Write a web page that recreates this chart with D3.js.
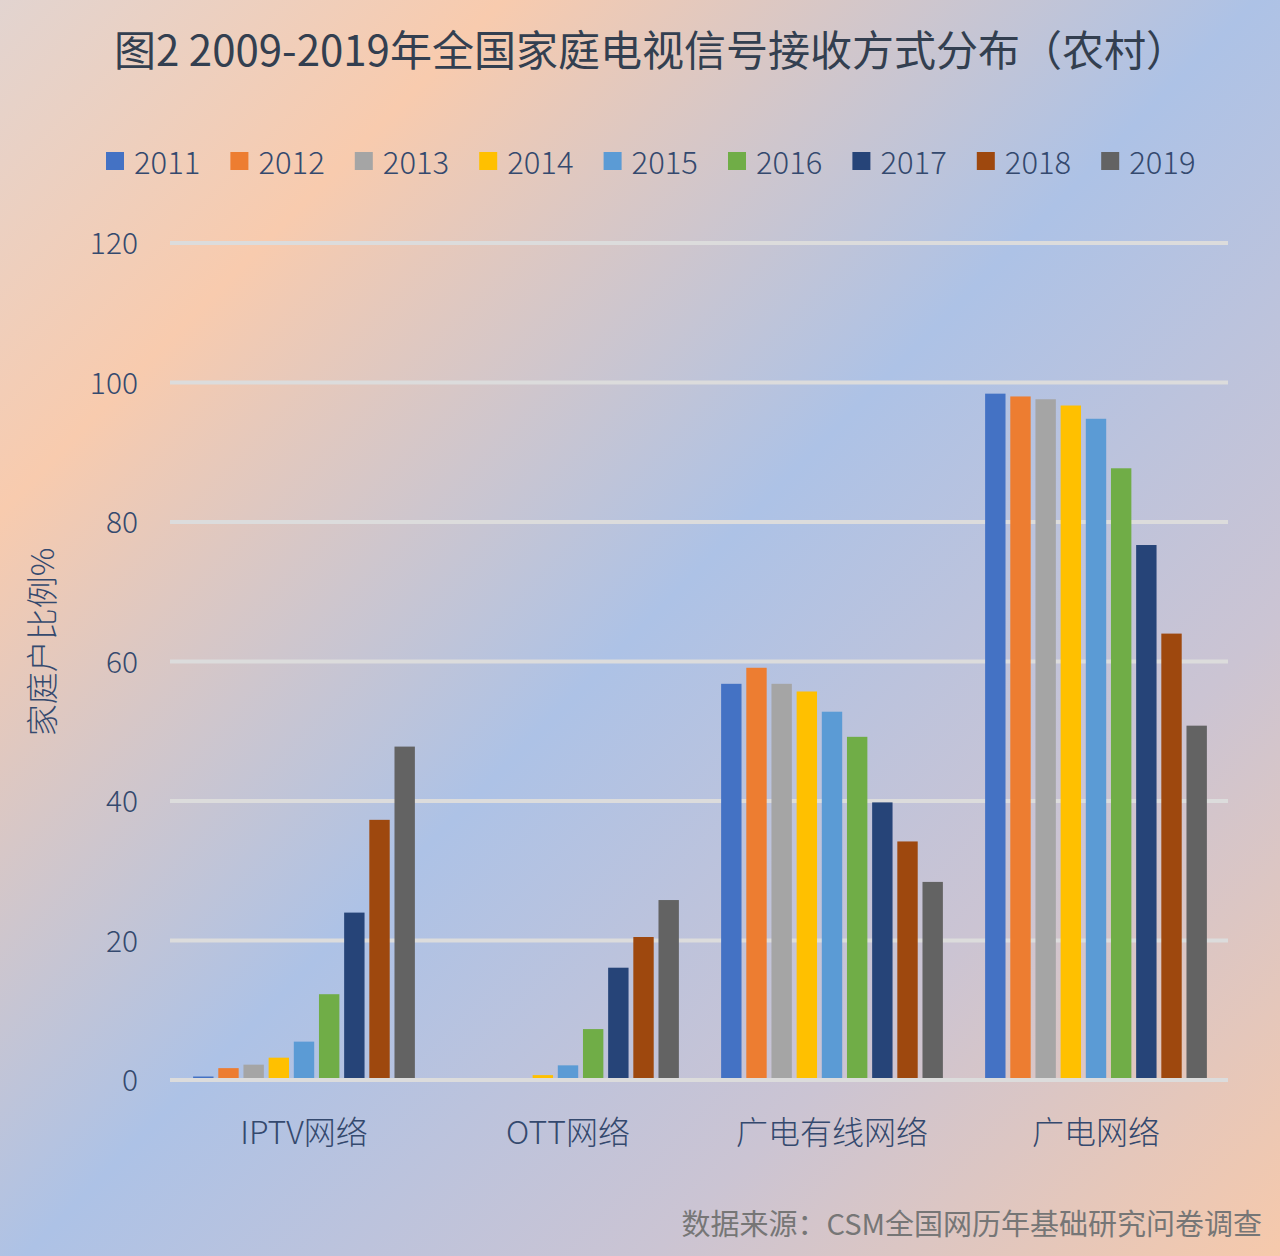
<!DOCTYPE html>
<html>
<head>
<meta charset="utf-8">
<script src="https://cdn.jsdelivr.net/npm/d3@7"></script>
<style>
  html, body { margin: 0; padding: 0; }
  body { width: 1280px; height: 1256px; overflow: hidden; }
  svg { display: block; }
  text { font-family: "Noto Sans CJK SC", "Noto Sans", sans-serif; }
</style>
</head>
<body>
<svg id="chart" width="1280" height="1256"></svg>
<script>
const title = "图2 2009-2019年全国家庭电视信号接收方式分布（农村）";
const source = "数据来源：CSM全国网历年基础研究问卷调查";
const yTitle = "家庭户比例%";
const categories = ["IPTV网络", "OTT网络", "广电有线网络", "广电网络"];
const years = ["2011", "2012", "2013", "2014", "2015", "2016", "2017", "2018", "2019"];
const colors = ["#4472c4", "#ed7d31", "#a5a5a5", "#ffc000", "#5b9bd5", "#70ad47", "#264478", "#9e480e", "#636363"];
const yTicks = [0, 20, 40, 60, 80, 100, 120];
// values[yearIndex][categoryIndex]
const v2011 = [0.5, 0, 56.8, 98.4];
const v2012 = [1.7, 0, 59.1, 98.0];
const v2013 = [2.2, 0, 56.8, 97.6];
const v2014 = [3.2, 0.7, 55.7, 96.7];
const v2015 = [5.5, 2.1, 52.8, 94.8];
const v2016 = [12.3, 7.3, 49.2, 87.7];
const v2017 = [24.0, 16.1, 39.8, 76.7];
const v2018 = [37.3, 20.5, 34.2, 64.0];
const v2019 = [47.8, 25.8, 28.4, 50.8];
const series = [v2011, v2012, v2013, v2014, v2015, v2016, v2017, v2018, v2019];

const svg = d3.select("#chart");

// background gradient
const defs = svg.append("defs");
const grad = defs.append("linearGradient").attr("id", "bg")
  .attr("gradientUnits", "userSpaceOnUse")
  .attr("x1", 0).attr("y1", 0).attr("x2", 1280).attr("y2", 1256);
[[0, "#e2d4d0"], [0.2, "#f8cbae"], [0.5, "#adc2e6"], [0.75, "#cbc4d3"], [1, "#f6c9ab"]]
  .forEach(([o, c]) => grad.append("stop").attr("offset", o).attr("stop-color", c));
svg.append("rect").attr("width", 1280).attr("height", 1256).attr("fill", "url(#bg)");

const plotL = 172, plotR = 1228, plotT = 243, plotB = 1080;
const y = d3.scaleLinear().domain([0, 120]).range([plotB, plotT]);
const x0 = d3.scaleBand().domain(categories).range([plotL, plotR]).paddingInner(0.16).paddingOuter(0.08);
const x1 = d3.scaleBand().domain(years).range([0, x0.bandwidth()]).paddingInner(0.19).paddingOuter(0);

// gridlines
svg.append("g").selectAll("line").data(yTicks.filter(d => d > 0)).join("line")
  .attr("x1", plotL - 2).attr("x2", plotR)
  .attr("y1", d => y(d)).attr("y2", d => y(d))
  .attr("stroke", "#dcdcdc").attr("stroke-width", 4);

// bars
const groups = svg.append("g").selectAll("g").data(categories).join("g")
  .attr("transform", d => `translate(${x0(d)},0)`);
groups.selectAll("rect").data((c, ci) => years.map((yr, yi) => ({ yr, yi, v: series[yi][ci] })))
  .join("rect")
  .attr("x", d => x1(d.yr))
  .attr("width", x1.bandwidth())
  .attr("y", d => y(d.v))
  .attr("height", d => y(0) - y(d.v))
  .attr("fill", d => colors[d.yi]);

// zero line
svg.append("line").attr("x1", plotL - 2).attr("x2", plotR)
  .attr("y1", y(0)).attr("y2", y(0))
  .attr("stroke", "#dcdcdc").attr("stroke-width", 4);

// y tick labels
const yAxis = d3.axisLeft(y).tickValues(yTicks).tickSize(0).tickPadding(0);
const ya = svg.append("g").attr("transform", "translate(138,0)").call(yAxis);
ya.select(".domain").remove();
ya.selectAll("text").attr("font-size", 30).attr("font-weight", 300)
  .attr("fill", "#34496e").attr("font-family", "'Noto Sans CJK SC', 'Noto Sans', sans-serif")
  .attr("dy", "0.35em");

// x category labels
const xAxis = d3.axisBottom(x0).tickSize(0).tickPadding(0);
const xa = svg.append("g").attr("transform", "translate(0,1133)").call(xAxis);
xa.select(".domain").remove();
xa.selectAll("text").attr("font-size", 32).attr("font-weight", 300)
  .attr("fill", "#34496e").attr("font-family", "'Noto Sans CJK SC', 'Noto Sans', sans-serif")
  .attr("dy", "0.35em");

// y title
svg.append("text").attr("transform", "translate(40,642) rotate(-90)")
  .attr("text-anchor", "middle").attr("dominant-baseline", "central")
  .attr("font-size", 32).attr("font-weight", 300).attr("fill", "#34496e").text(yTitle);

// title
svg.append("text").attr("x", 651).attr("y", 47)
  .attr("text-anchor", "middle").attr("dominant-baseline", "central")
  .attr("font-size", 42).attr("fill", "#333f50").text(title);

// legend
const lx = d3.scaleLinear().domain([0, 1]).range([106, 230.4]);
const leg = svg.append("g").selectAll("g").data(years).join("g")
  .attr("transform", (d, i) => `translate(${lx(i)},161)`);
leg.append("rect").attr("x", 0).attr("y", -9).attr("width", 18).attr("height", 18)
  .attr("fill", (d, i) => colors[i]);
leg.append("text").attr("x", 28).attr("y", -1).attr("dominant-baseline", "central")
  .attr("font-size", 31).attr("font-weight", 300).attr("fill", "#34496e").text(d => d);

// source
svg.append("text").attr("x", 1262).attr("y", 1222)
  .attr("text-anchor", "end").attr("dominant-baseline", "central")
  .attr("font-size", 29).attr("fill", "#767676").text(source);
</script>
</body>
</html>
